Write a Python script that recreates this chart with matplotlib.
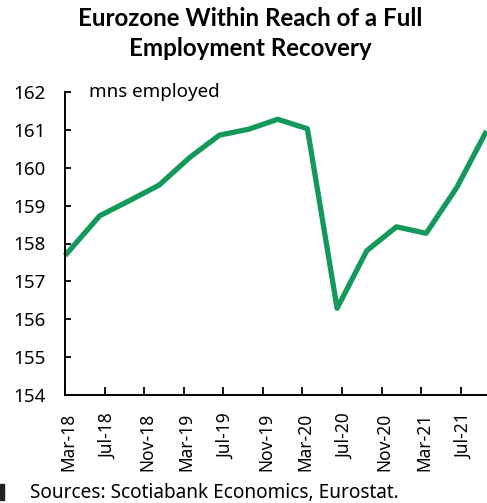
import matplotlib
matplotlib.use("Agg")
import matplotlib.pyplot as plt
import matplotlib.transforms as mtransforms
from matplotlib.patches import Rectangle

# Data (quarterly observations; x in months since Mar-18 as placed on the chart's date axis)
months = [0, 3.5, 6.5, 9.5, 12.6, 15.6, 18.6, 21.5, 24.5, 27.5, 30.5, 33.5, 36.5, 39.6, 42.6]
employed = [157.68, 158.73, 159.13, 159.54, 160.27, 160.86, 161.02, 161.28,
            161.03, 156.29, 157.81, 158.44, 158.27, 159.48, 160.97]
tick_months = [0, 4, 8, 12, 16, 20, 24, 28, 32, 36, 40]
tick_labels = ["Mar-18", "Jul-18", "Nov-18", "Mar-19", "Jul-19", "Nov-19",
               "Mar-20", "Jul-20", "Nov-20", "Mar-21", "Jul-21"]
y_ticks = [154, 155, 156, 157, 158, 159, 160, 161, 162]

plt.rcParams['font.family'] = ['Noto Sans', 'DejaVu Sans']

fig = plt.figure(figsize=(4.87, 5.03), dpi=100)
ax = fig.add_axes([65/487, 1-395/503, (486.5-65)/487, (395-92)/503])

ax.plot(months, employed, color="#139A5B", lw=3.8, solid_joinstyle="round",
        solid_capstyle="butt", clip_on=False)

ax.set_xlim(0, 42.6)
ax.set_ylim(154, 162)
ax.set_yticks(y_ticks)
ax.set_yticklabels([str(v) for v in y_ticks], fontsize=13.5)
ax.set_xticks(tick_months)
ax.set_xticklabels(tick_labels, rotation=90, fontsize=12.5)
ax.tick_params(axis="y", direction="in", length=4, width=1.3, pad=14, colors="black")
ax.tick_params(axis="x", direction="in", length=6, width=1.3, pad=13)
offset = mtransforms.ScaledTranslation(3/100, 0, fig.dpi_scale_trans)
for lab in ax.get_xticklabels():
    lab.set_transform(lab.get_transform() + offset)
for s in ["top", "right"]:
    ax.spines[s].set_visible(False)
for s in ["left", "bottom"]:
    ax.spines[s].set_linewidth(1.4)

fig.text(89/487, 1-92/503, "mns employed", fontsize=13.5,
         ha="left", va="center")

title_font = ['Lato', 'DejaVu Sans']
fig.text(250/487, 1-19/503, "Eurozone Within Reach of a Full", fontsize=17.4,
         fontweight="bold", family=title_font, ha="center", va="center")
fig.text(250/487, 1-49/503, "Employment Recovery", fontsize=17.4,
         fontweight="bold", family=title_font, ha="center", va="center")

fig.text(30/487, 1-493/503, "Sources: Scotiabank Economics, Eurostat.",
         fontsize=13.7, ha="left", va="center")
fig.patches.append(Rectangle((0, 1-500/503), 4/487, 16/503,
                             transform=fig.transFigure, color="#222222"))

fig.savefig("out.png", dpi=100)
